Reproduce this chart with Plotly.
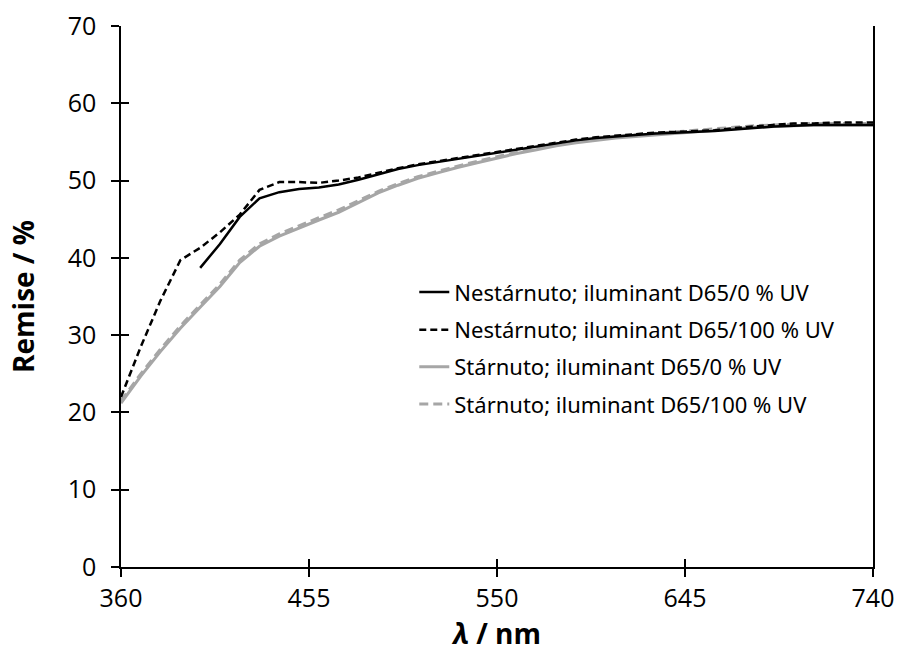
import plotly.graph_objects as go

wl = list(range(360, 750, 10))
wl_b0 = list(range(400, 750, 10))

nes_100 = [22.0, 28.5, 34.5, 39.7, 41.3, 43.3, 45.6, 48.8, 49.8, 49.8, 49.7, 50.0, 50.4,
           51.0, 51.6, 52.1, 52.5, 52.9, 53.3, 53.7, 54.1, 54.5, 54.9, 55.3, 55.6, 55.8,
           56.0, 56.2, 56.3, 56.4, 56.5, 56.8, 57.0, 57.2, 57.4, 57.4, 57.5, 57.5, 57.5]
nes_0 = [38.7, 41.8, 45.3, 47.7, 48.5, 48.9, 49.1, 49.5, 50.1, 50.8, 51.5, 52.0, 52.4,
         52.8, 53.2, 53.6, 54.0, 54.4, 54.8, 55.2, 55.5, 55.7, 55.9, 56.1, 56.2, 56.3,
         56.4, 56.6, 56.8, 57.0, 57.1, 57.2, 57.2, 57.2, 57.2]
sta_0 = [21.2, 24.7, 27.9, 30.9, 33.6, 36.3, 39.4, 41.5, 42.8, 43.9, 44.9, 45.9, 47.2,
         48.4, 49.4, 50.3, 51.0, 51.7, 52.3, 52.9, 53.5, 54.0, 54.5, 54.9, 55.2, 55.5,
         55.7, 55.9, 56.1, 56.3, 56.5, 56.7, 56.9, 57.0, 57.1, 57.2, 57.2, 57.2, 57.2]
sta_100 = [21.5, 25.0, 28.2, 31.2, 33.9, 36.6, 39.7, 41.8, 43.1, 44.2, 45.2, 46.2, 47.4,
           48.6, 49.6, 50.5, 51.2, 51.9, 52.5, 53.1, 53.7, 54.2, 54.7, 55.1, 55.4, 55.7,
           55.9, 56.1, 56.3, 56.5, 56.7, 56.9, 57.1, 57.2, 57.3, 57.4, 57.4, 57.4, 57.4]

names = ["Nestárnuto; iluminant D65/0 % UV", "Nestárnuto; iluminant D65/100 % UV",
         "Stárnuto; iluminant D65/0 % UV", "Stárnuto; iluminant D65/100 % UV"]
xticks = [360, 455, 550, 645, 740]
yticks = [0, 10, 20, 30, 40, 50, 60, 70]

GREY = "#a6a6a6"
fig = go.Figure()
# draw order: grey under black
fig.add_trace(go.Scatter(x=wl, y=sta_0, name=names[2], mode="lines", legend="legend3",
                         line=dict(color=GREY, dash="solid", width=3)))
fig.add_trace(go.Scatter(x=wl, y=sta_100, name=names[3], mode="lines", legend="legend4",
                         line=dict(color=GREY, dash="9px,5px", width=3)))
fig.add_trace(go.Scatter(x=wl_b0, y=nes_0, name=names[0], mode="lines", legend="legend",
                         line=dict(color="black", dash="solid", width=2.5)))
fig.add_trace(go.Scatter(x=wl, y=nes_100, name=names[1], mode="lines", legend="legend2",
                         line=dict(color="black", dash="7px,4px", width=2.5)))
# invisible helper trace on overlay axes (for inner half of the crossing ticks)
fig.add_trace(go.Scatter(x=wl, y=sta_0, xaxis="x2", yaxis="y2", mode="lines",
                         line=dict(color="rgba(0,0,0,0)"), showlegend=False,
                         hoverinfo="skip"))

legfont = dict(family="Noto Sans", size=22, color="black")
legs = ["legend", "legend2", "legend3", "legend4"]
ys = [0.508, 0.438, 0.370, 0.301]
leg_kw = {}
for lg, yy in zip(legs, ys):
    leg_kw[lg] = dict(x=0.39, y=yy, xanchor="left", yanchor="middle", font=legfont,
                      bgcolor="rgba(0,0,0,0)", borderwidth=0)

tickfont = dict(family="Open Sans", size=25, color="black")
titlefont = dict(family="Open Sans", size=28, color="black")

fig.update_layout(
    width=897, height=655,
    margin=dict(l=121, r=24, t=26, b=88),
    paper_bgcolor="white", plot_bgcolor="white",
    showlegend=True,
    xaxis=dict(range=[360, 740], tickvals=xticks, ticks="outside", ticklen=8,
               tickwidth=1.5, tickcolor="black", showline=True, linecolor="black",
               linewidth=1.5, showgrid=False, zeroline=False, automargin=False,
               tickfont=tickfont,
               title=dict(text="<b><i>λ</i> / nm</b>", font=titlefont, standoff=1)),
    yaxis=dict(range=[0, 70], tickvals=yticks, ticks="outside", ticklen=8,
               tickwidth=1.5, tickcolor="black", showline=True, linecolor="black",
               linewidth=1.5, mirror=True, showgrid=False, zeroline=False,
               automargin=False, tickfont=tickfont, ticklabelstandoff=10,
               title=dict(text="<b>Remise / %</b>", font=titlefont, standoff=25)),
    xaxis2=dict(range=[360, 740], tickvals=xticks, ticks="inside", ticklen=8,
                tickwidth=1.5, tickcolor="black", showline=False, showgrid=False,
                zeroline=False, showticklabels=False, overlaying="x", side="bottom",
                anchor="y2"),
    yaxis2=dict(range=[0, 70], tickvals=yticks, ticks="inside", ticklen=8,
                tickwidth=1.5, tickcolor="black", showline=False, showgrid=False,
                zeroline=False, showticklabels=False, overlaying="y", side="left",
                anchor="x2"),
    **leg_kw,
)

fig.write_html("out.html")
